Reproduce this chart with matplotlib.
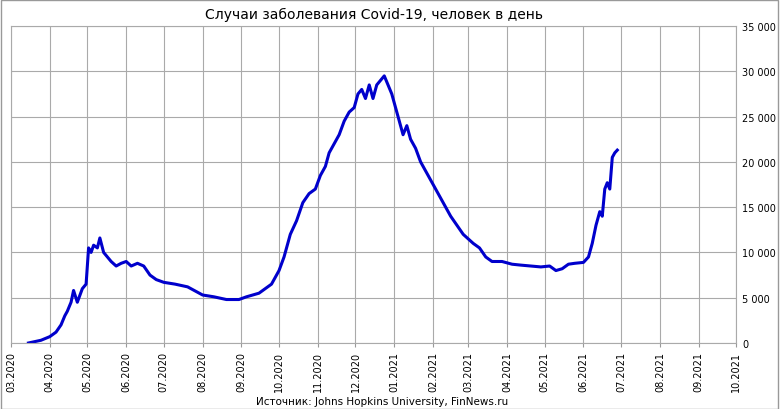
import matplotlib
matplotlib.use("Agg")
import matplotlib.pyplot as plt
import pandas as pd

dates = ["2020-03-15","2020-03-25","2020-04-01","2020-04-06","2020-04-10","2020-04-13","2020-04-15","2020-04-18","2020-04-20","2020-04-23","2020-04-27","2020-04-30",
"2020-05-02","2020-05-04","2020-05-06","2020-05-09","2020-05-11","2020-05-14","2020-05-17","2020-05-20","2020-05-24","2020-05-28","2020-06-01","2020-06-05","2020-06-10","2020-06-15","2020-06-20","2020-06-25",
"2020-07-01","2020-07-10","2020-07-20","2020-08-01","2020-08-10","2020-08-20","2020-08-30","2020-09-05","2020-09-15","2020-09-25",
"2020-10-01","2020-10-05","2020-10-10","2020-10-15","2020-10-20","2020-10-25","2020-10-30","2020-11-03","2020-11-07","2020-11-10","2020-11-14","2020-11-18","2020-11-22","2020-11-26","2020-11-30",
"2020-12-03","2020-12-06","2020-12-09","2020-12-12","2020-12-15","2020-12-18","2020-12-21","2020-12-24","2020-12-27","2020-12-30",
"2021-01-02","2021-01-05","2021-01-08","2021-01-11","2021-01-14","2021-01-18","2021-01-22","2021-01-26","2021-01-30",
"2021-02-03","2021-02-07","2021-02-11","2021-02-15","2021-02-20","2021-02-25","2021-03-01","2021-03-05","2021-03-10","2021-03-15","2021-03-20","2021-03-28",
"2021-04-05","2021-04-12","2021-04-20","2021-04-28","2021-05-05","2021-05-10","2021-05-15","2021-05-20","2021-05-25","2021-06-01","2021-06-05","2021-06-08","2021-06-11","2021-06-14","2021-06-16","2021-06-18","2021-06-20","2021-06-22","2021-06-24","2021-06-26","2021-06-28"]
cases = [0,300,700,1200,2000,3000,3500,4500,5800,4500,6000,6500,
10500,10000,10800,10500,11600,10000,9500,9000,8500,8800,9000,8500,8800,8500,7500,7000,
6700,6500,6200,5300,5100,4800,4800,5100,5500,6500,
8000,9500,12000,13500,15500,16500,17000,18500,19500,21000,22000,23000,24500,25500,26000,
27500,28000,27000,28500,27000,28500,29000,29500,28500,27500,
26000,24500,23000,24000,22500,21500,20000,19000,18000,
17000,16000,15000,14000,13000,12000,11500,11000,10500,9500,9000,9000,
8700,8600,8500,8400,8500,8000,8200,8700,8800,8900,9500,11000,13000,14500,14000,17000,17700,17000,20500,21000,21300]
xticks = pd.date_range("2020-03-01","2021-10-01",freq="MS")
yticks = list(range(0,35001,5000))

fig = plt.figure(figsize=(7.8,4.1),dpi=100)
fig.patches.append(plt.Rectangle((0.001,0.001),0.997,0.997,transform=fig.transFigure,fill=False,edgecolor="#999999",lw=1))
ax = fig.add_axes([0.014,0.161,0.93,0.773])
ax.plot(pd.to_datetime(dates), cases, color="#0000CC", lw=2.2)
ax.set_xlim(xticks[0], xticks[-1])
ax.set_ylim(0,35000)
ax.set_xticks(xticks)
ax.set_xticklabels([d.strftime("%m.%Y") for d in xticks], fontsize=7, rotation=90)
ax.set_yticks(yticks)
ax.set_yticklabels([f"{v:,}".replace(",", " ") for v in yticks], fontsize=7)
ax.yaxis.tick_right()
ax.tick_params(axis="y", length=0, pad=4)
ax.tick_params(axis="x", length=3, color="#999999", pad=3)
ax.grid(True, color="#aaaaaa", lw=0.8)
for s in ax.spines.values():
    s.set_color("#aaaaaa")
ax.set_title("Случаи заболевания Covid-19, человек в день", fontsize=10, pad=6)
fig.text(0.49,0.012,"Источник: Johns Hopkins University, FinNews.ru", ha="center", fontsize=7.5)
fig.savefig("out.png")
